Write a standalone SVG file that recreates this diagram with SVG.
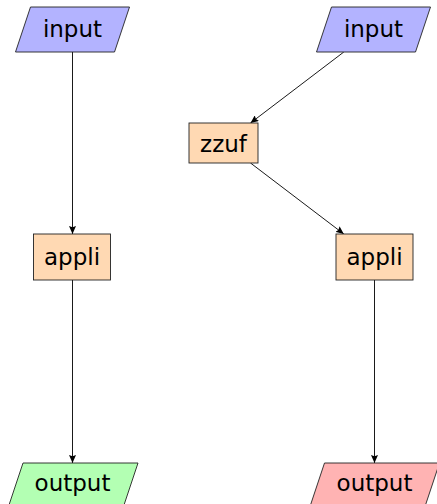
<svg xmlns="http://www.w3.org/2000/svg" width="437" height="504" viewBox="0 0 437 504">
  <defs>
    <marker id="arrow" viewBox="0 0 8 7" refX="8" refY="3.5" markerWidth="8" markerHeight="7" markerUnits="userSpaceOnUse" orient="auto">
      <path d="M0,0 L8,3.5 L0,7 L1.2,3.5 Z" fill="#000"/>
    </marker>
  </defs>
  <style>
    .shape { stroke: #222; stroke-width: 0.9; }
    .in { fill: #b3b3ff; }
    .proc { fill: #ffd9b3; }
    .ok { fill: #b3ffb3; }
    .bad { fill: #ffb3b3; }
    .label { font-family: "DejaVu Sans", sans-serif; font-size: 23px; fill: #000; text-anchor: middle; }
    .edge { stroke: #000; stroke-width: 0.9; fill: none; marker-end: url(#arrow); }
  </style>
  <rect width="437" height="504" fill="#fff"/>

  <!-- connectors -->
  <g id="connectors">
    <line class="edge" x1="72.5" y1="52" x2="72.5" y2="234"/>
    <line class="edge" x1="72.5" y1="280" x2="72.5" y2="463"/>
    <line class="edge" x1="343.8" y1="52" x2="250.5" y2="123"/>
    <line class="edge" x1="250.5" y1="163" x2="343.8" y2="234"/>
    <line class="edge" x1="374.5" y1="280" x2="374.5" y2="463"/>
  </g>

  <!-- left pipeline -->
  <g id="input-left">
    <polygon class="shape in" points="30.5,7 129.5,7 114.5,52 15.5,52"/>
    <text class="label" x="72.5" y="37">input</text>
  </g>
  <g id="appli-left">
    <rect class="shape proc" x="33.5" y="234" width="77" height="46"/>
    <text class="label" x="72" y="265">appli</text>
  </g>
  <g id="output-left">
    <polygon class="shape ok" points="23,463 138,463 123,508 8,508"/>
    <text class="label" x="72.5" y="491">output</text>
  </g>

  <!-- right pipeline -->
  <g id="input-right">
    <polygon class="shape in" points="331.5,7 430.5,7 415.5,52 316.5,52"/>
    <text class="label" x="373.5" y="37">input</text>
  </g>
  <g id="zzuf">
    <rect class="shape proc" x="189" y="123" width="69" height="40"/>
    <text class="label" x="223.5" y="152">zzuf</text>
  </g>
  <g id="appli-right">
    <rect class="shape proc" x="336" y="234" width="77" height="46"/>
    <text class="label" x="374.5" y="265">appli</text>
  </g>
  <g id="output-right">
    <polygon class="shape bad" points="324.5,463 439.5,463 424.5,508 309.5,508"/>
    <text class="label" x="374.5" y="491">output</text>
  </g>
</svg>
